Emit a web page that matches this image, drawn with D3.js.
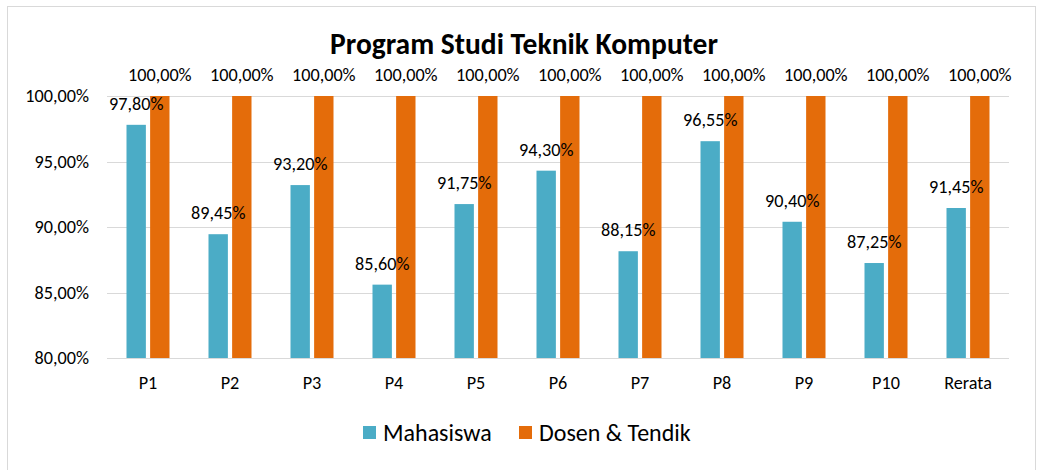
<!DOCTYPE html>
<html><head><meta charset="utf-8">
<script src="https://cdn.jsdelivr.net/npm/d3@7"></script>
<style>body{margin:0;background:#fff}svg{display:block}</style>
</head><body>
<script>
const categories = ["P1","P2","P3","P4","P5","P6","P7","P8","P9","P10","Rerata"];
const seriesNames = ["Mahasiswa","Dosen & Tendik"];
const mahasiswa = [97.80,89.45,93.20,85.60,91.75,94.30,88.15,96.55,90.40,87.25,91.45];
const dosen = [100,100,100,100,100,100,100,100,100,100,100];
const yTicks = [80,85,90,95,100];
const colors = ["#4BACC6","#E46C0A"];
const title = "Program Studi Teknik Komputer";

const W = 1039, H = 470;
const FONT = "Carlito, Lato, 'Open Sans', sans-serif";
const FS = 18.2;
const svg = d3.select("body").append("svg").attr("width", W).attr("height", H);
svg.append("rect").attr("x",7.5).attr("y",6.5).attr("width",1028).attr("height",480)
  .attr("fill","#fff").attr("stroke","#d9d9d9").attr("stroke-width",1);

const m = {left:107, right:1009, top:96, bottom:358};
const x0 = d3.scaleBand().domain(categories).range([m.left, m.right]).padding(0);
const x1 = d3.scaleBand().domain(seriesNames).range([19.5, 62.5]).paddingInner(0.18);
const y = d3.scaleLinear().domain([80,100]).range([m.bottom, m.top]);
const fmt = v => d3.format(".2f")(v).replace(".", ",") + "%";

// gridlines
svg.append("g").selectAll("line").data(yTicks).join("line")
  .attr("x1", m.left).attr("x2", m.right)
  .attr("y1", d => Math.round(y(d))+0.5).attr("y2", d => Math.round(y(d))+0.5)
  .attr("stroke","#d9d9d9").attr("stroke-width",1);

// y axis labels
const yAxis = d3.axisLeft(y).tickValues(yTicks).tickFormat(fmt).tickSize(0).tickPadding(18);
const gy = svg.append("g").attr("transform",`translate(${m.left},0)`).call(yAxis);
gy.select(".domain").remove();
gy.selectAll("text").attr("font-family",FONT).attr("font-size",FS).attr("fill","#000");

// x axis labels
const xAxis = d3.axisBottom(x0).tickSize(0).tickPadding(18);
const gx = svg.append("g").attr("transform",`translate(0,${m.bottom})`).call(xAxis);
gx.select(".domain").remove();
gx.selectAll("text").attr("font-family",FONT).attr("font-size",FS).attr("fill","#000");

const data = categories.map((c,i)=>({cat:c, vals:[{s:seriesNames[0],v:mahasiswa[i],c:colors[0]},{s:seriesNames[1],v:dosen[i],c:colors[1]}]}));
const groups = svg.append("g").selectAll("g").data(data).join("g")
  .attr("transform", d => `translate(${x0(d.cat)},0)`);
groups.selectAll("rect").data(d => d.vals).join("rect")
  .attr("x", d => x1(d.s)).attr("width", x1.bandwidth())
  .attr("y", d => y(d.v)).attr("height", d => y(80) - y(d.v))
  .attr("fill", d => d.c);
groups.selectAll("text").data(d => d.vals).join("text")
  .attr("x", d => x1(d.s) + x1.bandwidth()/2)
  .attr("y", d => y(d.v) - 21.5)
  .attr("dy","0.35em")
  .attr("text-anchor","middle")
  .attr("font-family",FONT).attr("font-size",FS).attr("fill","#000")
  .text(d => fmt(d.v));

// title
svg.append("text").attr("x",524).attr("y",44).attr("dy","0.35em").attr("text-anchor","middle")
  .attr("font-family",FONT).attr("font-size",29.5).attr("font-weight","bold").attr("fill","#000")
  .text(title);

// legend
const legX = [363, 519];
const leg = svg.append("g").selectAll("g").data(seriesNames).join("g")
  .attr("transform",(d,i)=>`translate(${legX[i]},426)`);
leg.append("rect").attr("width",13).attr("height",13).attr("fill",(d,i)=>colors[i]);
leg.append("text").attr("x",20).attr("y",6.5).attr("dy","0.35em")
  .attr("font-family",FONT).attr("font-size",24).attr("fill","#000").text(d=>d);
</script>
</body></html>
